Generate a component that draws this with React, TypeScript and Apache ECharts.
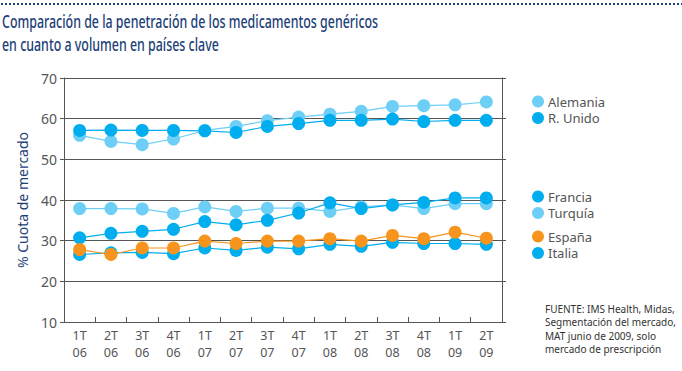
import React, { useEffect, useRef } from "react";
import * as echarts from "echarts";

const quarters = ["1T", "2T", "3T", "4T", "1T", "2T", "3T", "4T", "1T", "2T", "3T", "4T", "1T", "2T"];
const years = ["06", "06", "06", "06", "07", "07", "07", "07", "08", "08", "08", "08", "09", "09"];
const alemania = [55.9, 54.4, 53.6, 55.0, 57.1, 58.1, 59.5, 60.4, 61.1, 61.8, 63.0, 63.2, 63.4, 64.1];
const rUnido = [57.1, 57.2, 57.1, 57.1, 57.0, 56.6, 58.1, 58.8, 59.6, 59.6, 59.9, 59.3, 59.6, 59.6];
const turquia = [37.9, 37.9, 37.8, 36.7, 38.3, 37.2, 38.0, 38.0, 37.2, 38.3, 38.8, 37.9, 39.1, 39.1];
const francia = [30.7, 31.8, 32.3, 32.8, 34.7, 33.9, 35.0, 36.8, 39.3, 37.9, 38.8, 39.4, 40.5, 40.5];
const italia = [26.6, 27.0, 27.1, 26.8, 28.2, 27.6, 28.4, 28.0, 29.1, 28.6, 29.6, 29.3, 29.3, 29.1];
const espana = [27.8, 26.6, 28.2, 28.2, 29.9, 29.3, 29.9, 29.9, 30.5, 29.9, 31.3, 30.5, 32.1, 30.6];
const titleLines = ["Comparación de la penetración de los medicamentos genéricos", "en cuanto a volumen en países clave"];
const sourceLines = ["FUENTE: IMS Health, Midas,", "Segmentación del mercado,", "MAT junio de 2009, solo", "mercado de prescripción"];

const LIGHT = "#6dcff6";
const DARK = "#00aeef";
const ORANGE = "#f7941d";
const NAVY = "#1d3f78";
const GRAY = "#555555";
const FONT2 = "'Noto Sans', 'DejaVu Sans', sans-serif";

export default function App() {
  const ref = useRef<HTMLDivElement>(null);
  useEffect(() => {
    if (!ref.current) return;
    const chart = echarts.init(ref.current, null, { renderer: "svg" });
    const mk = (name: string, data: number[], color: string) => ({
      name,
      type: "line",
      data,
      xAxisIndex: 0,
      yAxisIndex: 0,
      symbol: "circle",
      symbolSize: 13,
      itemStyle: { color },
      lineStyle: { color, width: 1.2 },
      emphasis: { disabled: true },
    });
    const legendBase = {
      orient: "vertical",
      left: 527,
      icon: "circle",
      itemWidth: 12,
      itemHeight: 12,
      itemGap: 3.5,
      selectedMode: false,
      textStyle: { color: GRAY, fontSize: 13, fontFamily: FONT2, padding: [0, 0, 0, -1] },
    };
    chart.setOption({
      animation: false,
      legend: [
        { ...legendBase, top: 90, data: ["Alemania", "R. Unido"] },
        { ...legendBase, top: 185, data: ["Francia", "Turquía"] },
        { ...legendBase, top: 225, data: ["España", "Italia"] },
      ],
      grid: { left: 64, right: 180, top: 78, bottom: 49 },
      xAxis: [
        {
          type: "category",
          data: quarters,
          boundaryGap: true,
          axisLine: { lineStyle: { color: GRAY, width: 1 } },
          axisTick: { show: true, inside: true, length: 5, alignWithLabel: false, lineStyle: { color: GRAY } },
          axisLabel: { color: GRAY, fontSize: 12.5, lineHeight: 12, fontFamily: FONT2, margin: 7, interval: 0 },
        },
        {
          type: "category",
          data: years,
          position: "bottom",
          boundaryGap: true,
          axisLine: { show: false },
          axisTick: { show: false },
          axisLabel: { color: GRAY, fontSize: 12.5, lineHeight: 12, fontFamily: FONT2, margin: 24, interval: 0 },
        },
      ],
      yAxis: [
        {
          type: "value",
          min: 10,
          max: 70,
          interval: 10,
          name: "% Cuota de mercado",
          nameLocation: "middle",
          nameGap: 35,
          nameTextStyle: { color: NAVY, fontSize: 14, fontFamily: FONT2 },
          axisLine: { show: true, lineStyle: { color: GRAY } },
          axisTick: { show: true, length: 4, lineStyle: { color: GRAY } },
          axisLabel: { color: GRAY, fontSize: 14, fontFamily: FONT2, margin: 7 },
          splitLine: { show: true, lineStyle: { color: GRAY, width: 1 } },
        },
        {
          type: "value",
          min: 10,
          max: 70,
          interval: 10,
          position: "right",
          axisLine: { show: true, lineStyle: { color: GRAY } },
          axisTick: { show: true, length: 4, lineStyle: { color: GRAY } },
          axisLabel: { show: false },
          splitLine: { show: false },
        },
      ],
      graphic: [
        {
          type: "line",
          shape: { x1: 1, y1: 4, x2: 682, y2: 4 },
          style: { stroke: NAVY, lineWidth: 2, lineDash: [2, 2] },
        },
        {
          type: "text",
          x: 2,
          y: 10,
          scaleX: 0.69,
          style: {
            text: titleLines.join("\n"),
            fill: NAVY,
            fontSize: 18,
            fontWeight: 500,
            fontFamily: FONT2,
            lineHeight: 23,
          },
        },
        {
          type: "text",
          right: 6,
          top: 302,
          style: {
            text: sourceLines.join("\n"),
            fill: "#333333",
            fontSize: 10,
            fontFamily: FONT2,
            lineHeight: 13.5,
            align: "right",
          },
        },
      ],
      series: [
        mk("Alemania", alemania, LIGHT),
        mk("R. Unido", rUnido, DARK),
        mk("Turquía", turquia, LIGHT),
        mk("Francia", francia, DARK),
        mk("Italia", italia, DARK),
        mk("España", espana, ORANGE),
      ],
    });
    return () => chart.dispose();
  }, []);
  return <div ref={ref} style={{ width: 682, height: 371, position: "absolute", left: 0, top: 0 }} />;
}
